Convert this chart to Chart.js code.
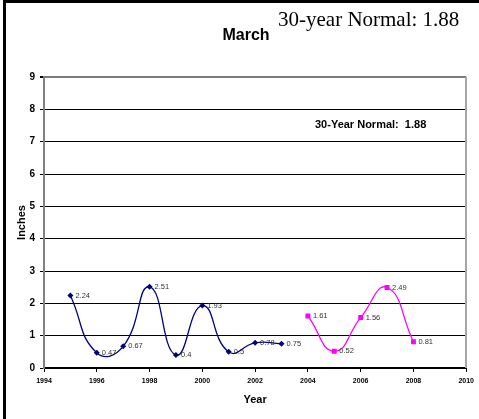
<!DOCTYPE html>
<html>
<head>
<meta charset="utf-8">
<title>March precipitation</title>
<script src="https://cdn.jsdelivr.net/npm/chart.js@4.4.0/dist/chart.umd.min.js"></script>
<style>
  html, body { margin: 0; padding: 0; background: #fff; }
  #wrap { position: relative; width: 479px; height: 419px; overflow: hidden; }
  #frame { position: absolute; left: 3px; top: 0; width: 520px; height: 440px;
           border-left: 3px solid #000; border-top: 3px solid #000; pointer-events: none; }
  canvas { position: absolute; left: 0; top: 0; }
</style>
</head>
<body>
<div id="wrap">
  <canvas id="marchChart" width="479" height="419"></canvas>
  <div id="frame"></div>
</div>
<script>
// March totals, first record (1995-2003) and second record (2004-2008)
const years1 = [1995, 1996, 1997, 1998, 1999, 2000, 2001, 2002, 2003];
const inches1 = [2.24, 0.47, 0.67, 2.51, 0.4, 1.93, 0.5, 0.78, 0.75];
const years2 = [2004, 2005, 2006, 2007, 2008];
const inches2 = [1.61, 0.52, 1.56, 2.49, 0.81];
const yearTicks = [1994, 1996, 1998, 2000, 2002, 2004, 2006, 2008, 2010];
const inchTicks = [0, 1, 2, 3, 4, 5, 6, 7, 8, 9];
const normal = 1.88;

const sans = '"Liberation Sans", Arial, sans-serif';
Chart.defaults.font.family = sans;
Chart.defaults.color = '#000';

function toPoints(xs, ys) {
    return xs.map((x, i) => ({ x: x, y: ys[i] }));
}

// gray right edge of the plot area
const plotEdge = {
    id: 'plotEdge',
    afterDraw(chart) {
        const a = chart.chartArea;
        const c = chart.ctx;
        c.save();
        c.fillStyle = '#a6a6a6';
        c.fillRect(Math.round(a.right) - 1, Math.round(a.top), 2, Math.round(a.bottom - a.top));
        c.restore();
    }
};

// value text to the right of every point
const pointLabels = {
    id: 'pointLabels',
    afterDatasetsDraw(chart) {
        const ctx = chart.ctx;
        ctx.save();
        ctx.font = '7.5px ' + sans;
        ctx.fillStyle = '#333';
        ctx.textAlign = 'left';
        ctx.textBaseline = 'middle';
        chart.data.datasets.forEach((ds, i) => {
            chart.getDatasetMeta(i).data.forEach((pt, j) => {
                ctx.fillText(String(ds.data[j].y), pt.x + 5, pt.y);
            });
        });
        ctx.restore();
    }
};

// headings and the normal note
const headings = {
    id: 'headings',
    afterDraw(chart) {
        const ctx = chart.ctx;
        ctx.save();
        ctx.fillStyle = '#000';
        ctx.textBaseline = 'middle';
        ctx.textAlign = 'center';
        ctx.font = 'bold 16px ' + sans;
        ctx.fillText('March', 246, 36);

        ctx.textAlign = 'left';
        ctx.textBaseline = 'alphabetic';
        ctx.font = '21px "Liberation Serif", "Times New Roman", serif';
        ctx.fillText('30-year Normal: ' + normal, 278, 26);

        ctx.textBaseline = 'middle';
        ctx.font = 'bold 11px ' + sans;
        ctx.fillText('30-Year Normal:  ' + normal, 315, 125);
        ctx.restore();
    }
};

const topIndex = inchTicks.length - 1;

const ctx = document.getElementById('marchChart').getContext('2d');
const marchChart = new Chart(ctx, {
    type: 'line',
    data: {
        datasets: [
            {
                label: '1995-2003',
                data: toPoints(years1, inches1),
                borderColor: '#000080',
                backgroundColor: '#000080',
                borderWidth: 1.3,
                pointStyle: 'rectRot',
                pointRadius: 3,
                pointBackgroundColor: '#000080',
                pointBorderWidth: 0,
                tension: 0.5
            },
            {
                label: '2004-2008',
                data: toPoints(years2, inches2),
                borderColor: '#FF00FF',
                backgroundColor: '#FF00FF',
                borderWidth: 1.3,
                pointStyle: 'rect',
                pointRadius: 3.5,
                pointBackgroundColor: '#FF00FF',
                pointBorderWidth: 0,
                tension: 0.5
            }
        ]
    },
    options: {
        responsive: false,
        animation: false,
        layout: {
            padding: { top: 77, right: 12, left: 0, bottom: 0 }
        },
        scales: {
            x: {
                type: 'linear',
                min: yearTicks[0],
                max: yearTicks[yearTicks.length - 1],
                afterBuildTicks: function (scale) {
                    scale.ticks = yearTicks.map(v => ({ value: v }));
                },
                afterFit: function (scale) {
                    scale.height = 51;
                },
                ticks: {
                    font: { size: 7, weight: 'bold' },
                    padding: 5,
                    maxRotation: 0,
                    callback: value => String(value)
                },
                grid: {
                    drawOnChartArea: false,
                    tickColor: '#000',
                    tickLength: 4,
                    tickWidth: 1
                },
                border: { color: '#000', width: 2 },
                title: {
                    display: true,
                    text: 'Year',
                    font: { size: 11, weight: 'bold' },
                    padding: { top: 0, bottom: 12 }
                }
            },
            y: {
                min: 0,
                max: 9,
                afterBuildTicks: function (scale) {
                    scale.ticks = inchTicks.map(v => ({ value: v }));
                },
                afterFit: function (scale) {
                    scale.width = 44;
                },
                ticks: {
                    font: { size: 10, weight: 'bold' },
                    padding: 5
                },
                grid: {
                    color: c => c.index === topIndex ? '#7a7a7a' : '#000',
                    lineWidth: c => c.index === topIndex ? 2 : 1,
                    tickColor: '#000',
                    tickLength: 4
                },
                border: { color: '#808080', width: 2 },
                title: {
                    display: true,
                    text: 'Inches',
                    font: { size: 11, weight: 'bold' },
                    padding: { top: 15, bottom: 0 }
                }
            }
        },
        plugins: {
            legend: { display: false },
            tooltip: { enabled: false }
        }
    },
    plugins: [plotEdge, pointLabels, headings]
});
</script>
</body>
</html>
